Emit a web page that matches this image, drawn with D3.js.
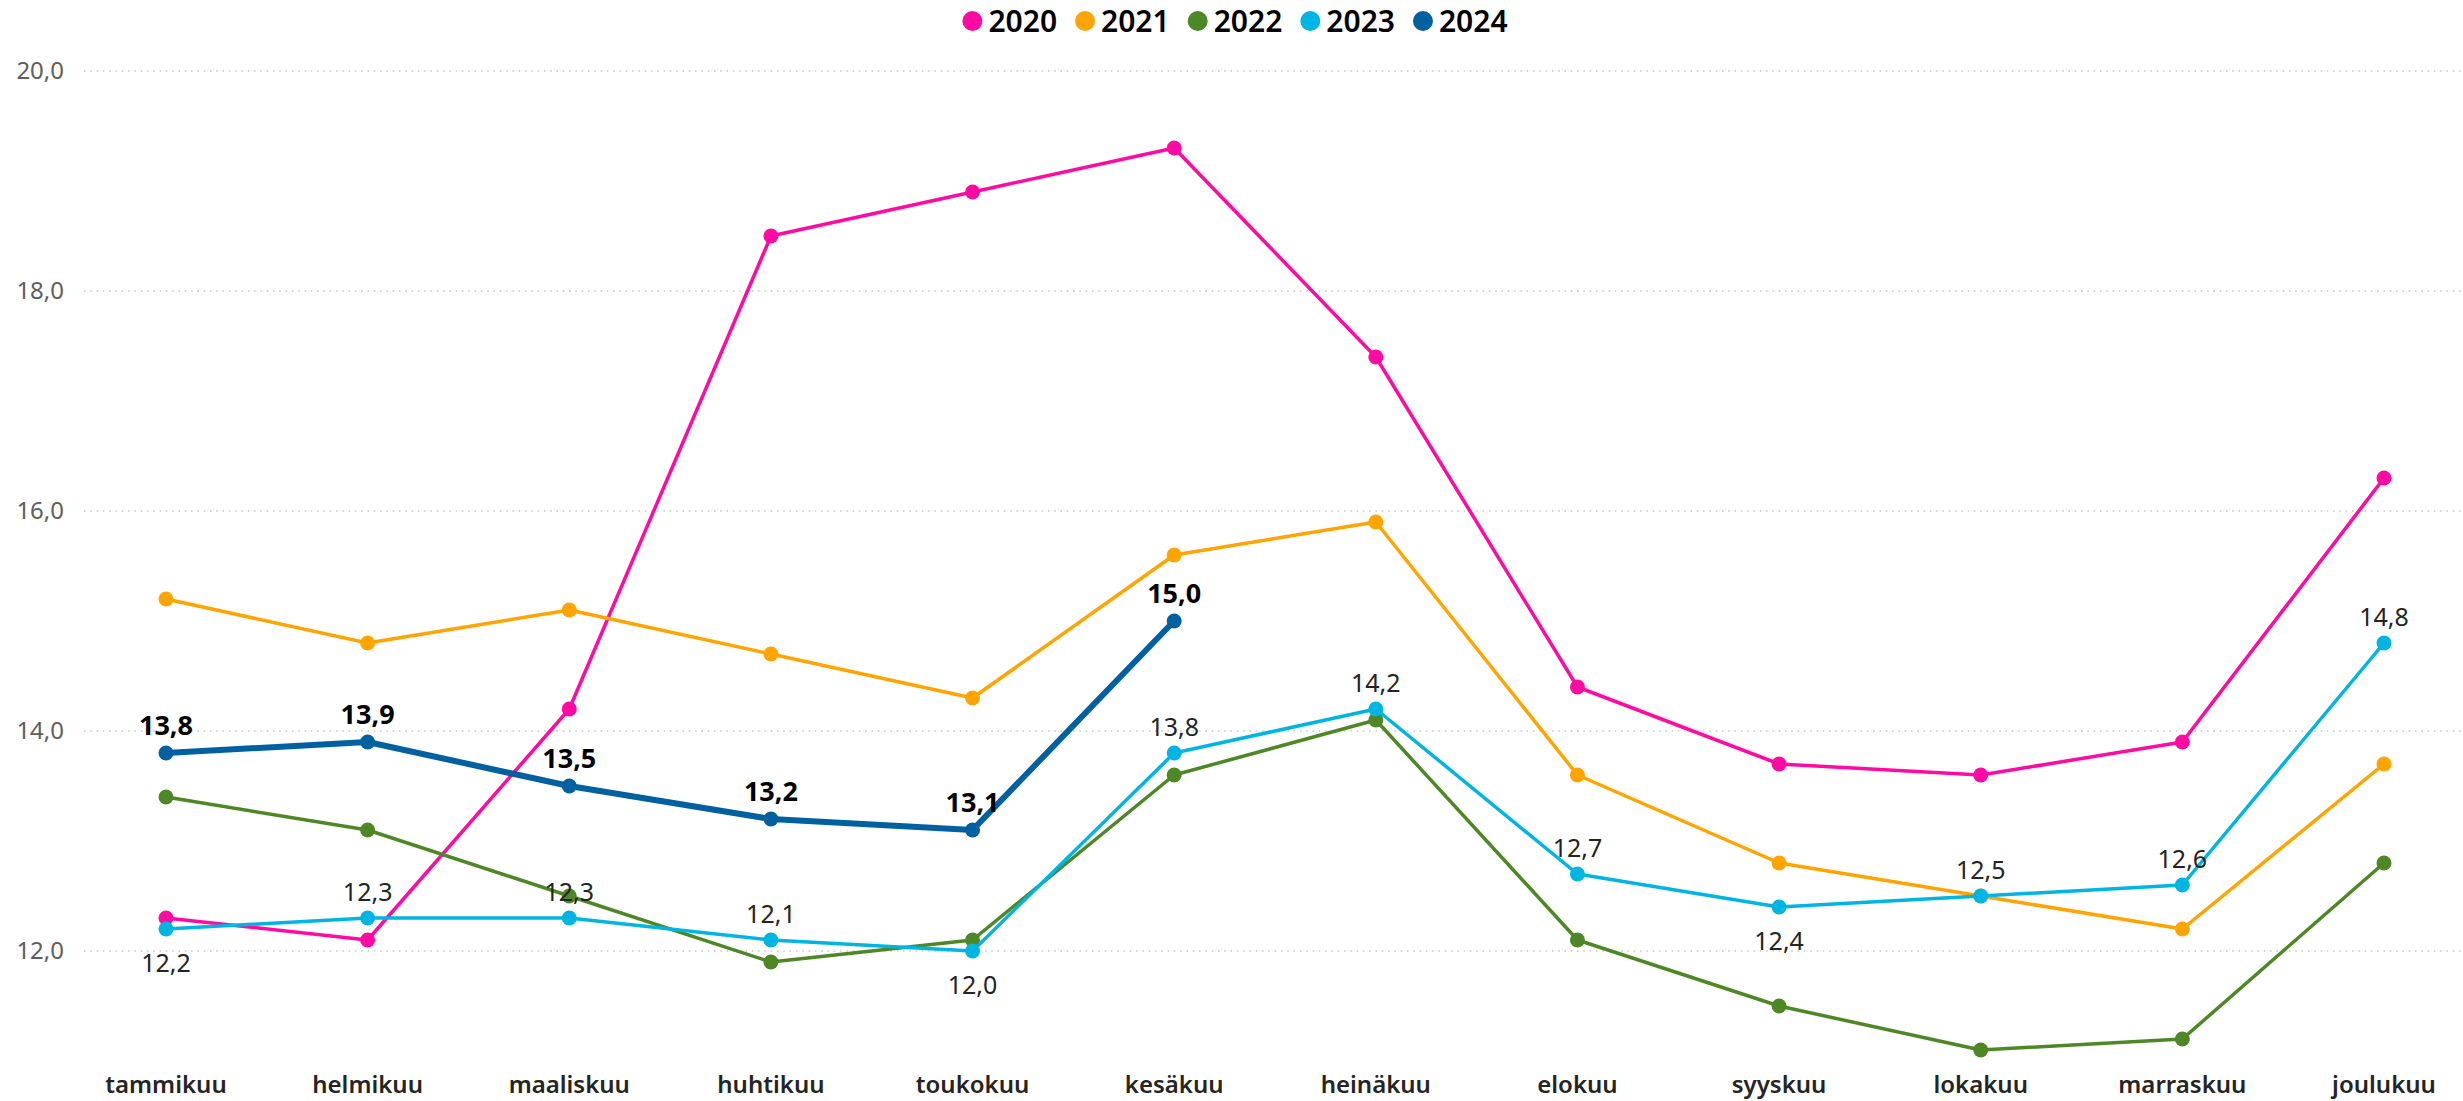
<!DOCTYPE html>
<html>
<head>
<meta charset="utf-8">
<script src="https://cdn.jsdelivr.net/npm/d3@7"></script>
<style>
  body { margin: 0; background: #fff; }
  text { font-family: "Segoe UI", "Noto Sans", "Open Sans", sans-serif; }
</style>
</head>
<body>
<div id="chart"></div>
<script>
// data
var months = ['tammikuu', 'helmikuu', 'maaliskuu', 'huhtikuu', 'toukokuu', 'kesäkuu',
	'heinäkuu', 'elokuu', 'syyskuu', 'lokakuu', 'marraskuu', 'joulukuu'];
var years = ['2020', '2021', '2022', '2023', '2024'];
var v2020 = [12.3, 12.1, 14.2, 18.5, 18.9, 19.3, 17.4, 14.4, 13.7, 13.6, 13.9, 16.3];
var v2021 = [15.2, 14.8, 15.1, 14.7, 14.3, 15.6, 15.9, 13.6, 12.8, 12.5, 12.2, 13.7];
var v2022 = [13.4, 13.1, 12.5, 11.9, 12.1, 13.6, 14.1, 12.1, 11.5, 11.1, 11.2, 12.8];
var v2023 = [12.2, 12.3, 12.3, 12.1, 12.0, 13.8, 14.2, 12.7, 12.4, 12.5, 12.6, 14.8];
var v2024 = [13.8, 13.9, 13.5, 13.2, 13.1, 15.0];
var yTicks = [12, 14, 16, 18, 20];
// which 2023 labels sit under the point
var below2023 = ['tammikuu', 'toukokuu', 'syyskuu'];

var colors = { '2020': '#FF0AA2', '2021': '#FFA400', '2022': '#4E8726', '2023': '#00B5E2', '2024': '#0060A0' };

var series = [
	{ name: '2020', values: v2020 },
	{ name: '2021', values: v2021 },
	{ name: '2022', values: v2022 },
	{ name: '2023', values: v2023 },
	{ name: '2024', values: v2024 }
];

// build canvas
var width = 2463,
	height = 1101;

var svg = d3.select('#chart')
	.append('svg')
	.attr('width', width)
	.attr('height', height);

var x = d3.scalePoint()
	.domain(months)
	.range([166, 2384]);

var y = d3.scaleLinear()
	.domain([12, 20])
	.range([951, 71]);

var fmt = d => d.toFixed(1).replace('.', ',');

// gridlines + y labels
var grid = svg.append('g');
grid.selectAll('line')
	.data(yTicks).enter()
	.append('line')
	.attr('x1', 84)
	.attr('x2', width)
	.attr('y1', d => y(d))
	.attr('y2', d => y(d))
	.attr('stroke', '#C8C6C4')
	.attr('stroke-width', 1.5)
	.attr('stroke-dasharray', '1.5,4.8');

grid.selectAll('text')
	.data(yTicks).enter()
	.append('text')
	.attr('x', 64)
	.attr('y', d => y(d))
	.attr('dy', '0.35em')
	.attr('text-anchor', 'end')
	.attr('font-size', 24)
	.attr('fill', '#605E5C')
	.text(d => fmt(d));

// x axis labels
svg.append('g')
	.selectAll('text')
	.data(months).enter()
	.append('text')
	.attr('x', d => x(d))
	.attr('y', 1093)
	.attr('text-anchor', 'middle')
	.attr('font-size', 24)
	.attr('font-weight', 600)
	.attr('fill', '#252423')
	.text(d => d);

// lines
var line = d3.line()
	.x((d, i) => x(months[i]))
	.y(d => y(d));

var layer = svg.append('g');
series.forEach(function(s) {
	var g = layer.append('g');
	var w = s.name === '2024' ? 6 : 3.5;
	g.append('path')
		.datum(s.values)
		.attr('fill', 'none')
		.attr('stroke', colors[s.name])
		.attr('stroke-width', w)
		.attr('stroke-linejoin', 'round')
		.attr('d', line);
	g.selectAll('circle')
		.data(s.values).enter()
		.append('circle')
		.attr('cx', (d, i) => x(months[i]))
		.attr('cy', d => y(d))
		.attr('r', 7.5)
		.attr('fill', colors[s.name]);
});

// data labels 2023
svg.append('g')
	.selectAll('text')
	.data(v2023).enter()
	.append('text')
	.attr('x', (d, i) => x(months[i]))
	.attr('y', (d, i) => below2023.indexOf(months[i]) >= 0 ? y(d) + 43 : y(d) - 17)
	.attr('text-anchor', 'middle')
	.attr('font-size', 25)
	.attr('fill', '#252423')
	.text(d => fmt(d));

// data labels 2024
svg.append('g')
	.selectAll('text')
	.data(v2024).enter()
	.append('text')
	.attr('x', (d, i) => x(months[i]))
	.attr('y', d => y(d) - 18)
	.attr('text-anchor', 'middle')
	.attr('font-size', 27)
	.attr('font-weight', 'bold')
	.attr('fill', '#000')
	.text(d => fmt(d));

// legend
var legend = svg.append('g');
var lx = 0;
years.forEach(function(yr) {
	var item = legend.append('g').attr('transform', 'translate(' + lx + ',0)');
	item.append('circle')
		.attr('cx', 10)
		.attr('cy', 21)
		.attr('r', 10)
		.attr('fill', colors[yr]);
	var t = item.append('text')
		.attr('x', 26)
		.attr('y', 21)
		.attr('dy', '0.35em')
		.attr('font-size', 30)
		.attr('font-weight', 600)
		.attr('fill', '#000')
		.text(yr);
	lx += 26 + t.node().getComputedTextLength() + 18;
});
legend.attr('transform', 'translate(' + (1235 - (lx - 18) / 2) + ',0)');
</script>
</body>
</html>
